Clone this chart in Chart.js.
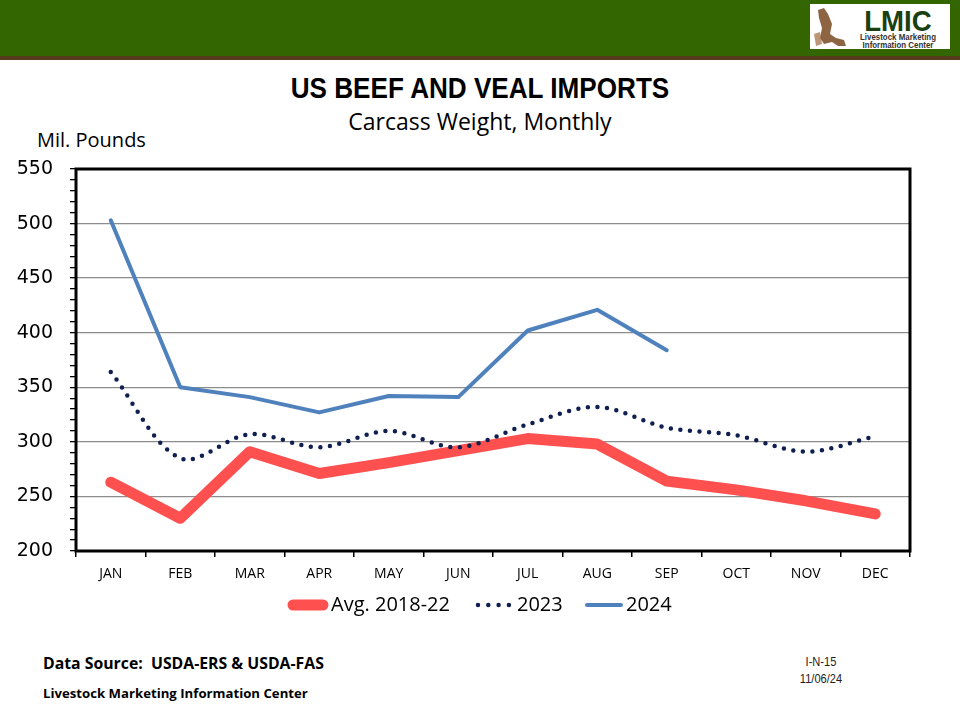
<!DOCTYPE html>
<html>
<head>
<meta charset="utf-8">
<script src="https://cdn.jsdelivr.net/npm/chart.js@4.4.1/dist/chart.umd.min.js"></script>
<style>
  body { margin: 0; background: #fff; }
  #page { position: relative; width: 960px; height: 720px; overflow: hidden; background: #fff; }
  .abs { position: absolute; white-space: nowrap; }
  #band { left: 0; top: 0; width: 960px; height: 56px; background: #336600; }
  #stripe { left: 0; top: 56px; width: 960px; height: 4px; background: #553b1c; }
  #logo { left: 810px; top: 4px; width: 140px; height: 45px; background: #fff; }
  #title { left: 0; width: 960px; top: 72px; text-align: center; font: bold 29px "Liberation Sans", Arial, sans-serif; transform: scaleX(0.9); }
  #subtitle { left: 0; width: 960px; top: 105px; text-align: center; font: 23px "Open Sans", sans-serif; }
  #unit { left: 37px; top: 126px; font: 20px "Open Sans", sans-serif; }
  #src { left: 43px; top: 652px; font: bold 15.8px "Open Sans", sans-serif; transform-origin: left top; }
  #lmic { left: 43px; top: 684px; font: bold 13.2px "Open Sans", sans-serif; }
  #code { left: 773px; width: 96px; top: 653px; text-align: center; font: 13.5px/17px "Liberation Sans", Arial, sans-serif; color: #222; transform: scaleX(0.82); }
  #chartbox { left: 0; top: 120px; width: 960px; height: 520px; }
</style>
</head>
<body>
<div id="page">
  <div class="abs" id="band"></div>
  <div class="abs" id="stripe"></div>
  <div class="abs" id="logo">
    <svg width="140" height="45">
      <path d="M8 6 L14 4 L18 10 L22 20 L20 30 L26 34 L34 36 L36 42 L28 42 L22 38 L14 40 L10 34 L12 24 L9 14 Z" fill="#7a4a22" opacity="0.85"/>
      <path d="M4 30 L10 28 L12 40 L6 42 Z" fill="#a06a3a" opacity="0.7"/>
      <text x="88" y="27" text-anchor="middle" font-family="Liberation Sans, Arial" font-weight="bold" font-size="30" fill="#1a4012" transform="translate(88,0) scale(0.92,1) translate(-88,0)">LMIC</text>
      <text x="88" y="36" text-anchor="middle" font-family="Liberation Sans, Arial" font-weight="bold" font-size="9" fill="#333" transform="translate(88,0) scale(0.88,1) translate(-88,0)">Livestock Marketing</text>
      <text x="88" y="44" text-anchor="middle" font-family="Liberation Sans, Arial" font-weight="bold" font-size="9" fill="#333" transform="translate(88,0) scale(0.88,1) translate(-88,0)">Information Center</text>
    </svg>
  </div>
  <div class="abs" id="title">US BEEF AND VEAL IMPORTS</div>
  <div class="abs" id="subtitle">Carcass Weight, Monthly</div>
  <div class="abs" id="unit">Mil. Pounds</div>
  <div class="abs" id="chartbox"><canvas id="c" width="960" height="520"></canvas></div>
  <div class="abs" id="src">Data Source:&nbsp; USDA-ERS &amp; USDA-FAS</div>
  <div class="abs" id="lmic">Livestock Marketing Information Center</div>
  <div class="abs" id="code">I-N-15<br>11/06/24</div>
</div>
<script>
const months = ['JAN', 'FEB', 'MAR', 'APR', 'MAY', 'JUN', 'JUL', 'AUG', 'SEP', 'OCT', 'NOV', 'DEC'];
const avg1822 = [263, 230, 291, 271, 281, 292, 303, 298, 264, 256, 246, 234];
const y2023 = [364, 285, 307, 295, 310, 295, 316, 332, 313, 306, 291, 305];
const y2024 = [503, 350, 341, 327, 342, 341, 402, 421, 384, null, null, null];
const yMin = 200, yMax = 550;

// plot frame + legend drawn by hand
const framePlugin = {
    id: 'frame',
    afterDraw(chart) {
        const ctx = chart.ctx;
        const a = chart.chartArea;
        ctx.save();
        ctx.strokeStyle = '#000';
        ctx.lineWidth = 3;
        ctx.strokeRect(a.left, a.top, a.right - a.left, a.bottom - a.top);

        // legend
        const ly = 485;
        ctx.lineCap = 'round';
        ctx.strokeStyle = '#FF5050';
        ctx.lineWidth = 11;
        ctx.beginPath(); ctx.moveTo(293, ly); ctx.lineTo(323, ly); ctx.stroke();
        ctx.strokeStyle = '#0F1F4F';
        ctx.lineWidth = 4.5;
        ctx.setLineDash([0, 10.3]);
        ctx.beginPath(); ctx.moveTo(478, ly); ctx.lineTo(510, ly); ctx.stroke();
        ctx.setLineDash([]);
        ctx.strokeStyle = '#4F81BD';
        ctx.lineWidth = 4;
        ctx.beginPath(); ctx.moveTo(587, ly); ctx.lineTo(621, ly); ctx.stroke();
        ctx.fillStyle = '#000';
        ctx.font = '20px "Open Sans", sans-serif';
        ctx.textBaseline = 'middle';
        ctx.fillText('Avg. 2018-22', 331, ly);
        ctx.fillText('2023', 517, ly);
        ctx.fillText('2024', 626, ly);
        ctx.restore();
    }
};

new Chart(document.getElementById('c'), {
    type: 'line',
    data: {
        labels: months,
        datasets: [{
            label: 'Avg. 2018-22',
            data: avg1822,
            borderColor: '#FF5050',
            borderWidth: 11,
            borderCapStyle: 'round',
            borderJoinStyle: 'round',
            pointRadius: 0,
            tension: 0,
            order: 3
        }, {
            label: '2023',
            data: y2023,
            borderColor: '#0F1F4F',
            borderWidth: 4.5,
            borderDash: [0, 9.6],
            borderCapStyle: 'round',
            pointRadius: 0,
            tension: 0.33,
            order: 2
        }, {
            label: '2024',
            data: y2024,
            borderColor: '#4F81BD',
            borderWidth: 4,
            borderCapStyle: 'round',
            borderJoinStyle: 'round',
            pointRadius: 0,
            tension: 0,
            spanGaps: false,
            order: 1
        }]
    },
    options: {
        responsive: false,
        devicePixelRatio: 1,
        animation: false,
        layout: { padding: { left: 0, right: 50, top: 49, bottom: 49 } },
        plugins: { legend: { display: false }, tooltip: { enabled: false } },
        scales: {
            x: {
                offset: true,
                border: { display: false },
                grid: { offset: true, drawOnChartArea: false, tickLength: 6, tickColor: '#000', lineWidth: 1.5 },
                ticks: { color: '#000', font: { family: '"Open Sans", sans-serif', size: 14 }, padding: 9, maxRotation: 0 },
                afterFit: (s) => { s.height = 40; }
            },
            y: {
                min: yMin,
                max: yMax,
                border: { display: false },
                grid: {
                    color: (c) => (c.tick && c.tick.value % 50 === 0 && c.tick.value > yMin && c.tick.value < yMax) ? '#8c8c8c' : 'rgba(0,0,0,0)',
                    tickColor: '#000',
                    tickLength: 6,
                    lineWidth: 1.3
                },
                ticks: {
                    stepSize: 10,
                    autoSkip: false,
                    color: '#000',
                    padding: 17,
                    font: { family: '"DejaVu Sans", Verdana, sans-serif', size: 19 },
                    callback: (v) => v % 50 === 0 ? v : ''
                },
                afterFit: (s) => { s.width = 76; }
            }
        }
    },
    plugins: [framePlugin]
});
</script>
</body>
</html>
